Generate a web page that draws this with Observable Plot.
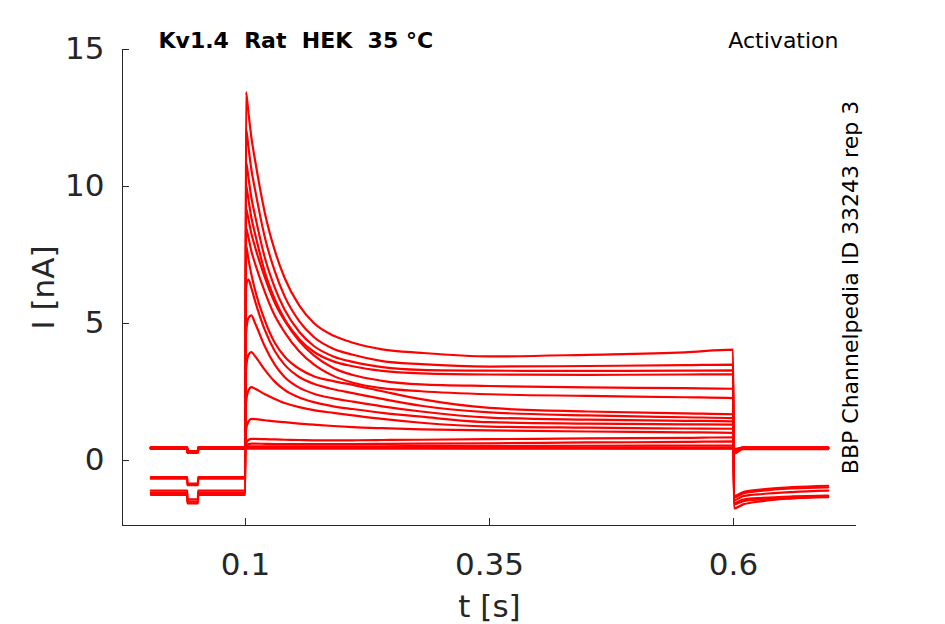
<!DOCTYPE html>
<html><head><meta charset="utf-8">
<script src="https://cdn.jsdelivr.net/npm/d3@7"></script>
<script src="https://cdn.jsdelivr.net/npm/@observablehq/plot@0.6"></script>
<style>body{margin:0;background:#fff;}</style>
</head><body><div id="chart"></div>
<script>
// ---- data ----
const titleText = "Kv1.4  Rat  HEK  35 °C";
const protocolText = "Activation";
const sourceText = "BBP Channelpedia ID 33243 rep 3";
const xLabel = "t [s]";
const yLabel = "I [nA]";
const xTicks = [0.1, 0.35, 0.6];
const yTicks = [0, 5, 10, 15];
const xDomain = [-0.026, 0.726];
const yDomain = [-2.37, 15];

// holding period (before the step)
const holdTimes = [0.003, 0.0403, 0.0405, 0.0513, 0.0515, 0.1];
const holdLevel = [-1.25, -1.18, -1.1, -0.6, -0.66, 0.45, 0.47, 0.44, 0.46, 0.43, 0.48, 0.45, 0.44, 0.46, 0.47, 0.45, 0.43, 0.48];
const dipLevel  = [-1.56, -1.5, -1.42, -0.84, -0.9, 0.31, 0.33, 0.3, 0.32, 0.29, 0.34, 0.31, 0.3, 0.32, 0.33, 0.31, 0.29, 0.34];

// step period
const stepTimes = [0.1005, 0.103, 0.106, 0.11, 0.12, 0.13, 0.14, 0.155, 0.17, 0.19, 0.21, 0.24, 0.28, 0.35, 0.45, 0.55, 0.5995];
const sweep01 = [13.45, 12.7, 11.8, 10.92, 9.01, 7.67, 6.67, 5.66, 5.02, 4.56, 4.3, 4.06, 3.93, 3.8, 3.86, 3.95, 4.05];
const sweep02 = [12.1, 11.45, 10.63, 9.85, 8.12, 6.91, 6.0, 5.09, 4.51, 4.08, 3.86, 3.63, 3.52, 3.43, 3.45, 3.48, 3.5];
const sweep03 = [10.9, 10.33, 9.6, 8.91, 7.38, 6.31, 5.51, 4.7, 4.18, 3.8, 3.6, 3.41, 3.31, 3.28, 3.27, 3.28, 3.29];
const sweep04 = [10.05, 9.53, 8.87, 8.25, 6.86, 5.89, 5.16, 4.44, 3.97, 3.62, 3.44, 3.27, 3.18, 3.14, 3.13, 3.14, 3.15];
const sweep05 = [9.2, 8.81, 8.29, 7.77, 6.67, 5.76, 5.11, 4.36, 3.84, 3.38, 3.12, 2.91, 2.78, 2.72, 2.67, 2.64, 2.62];
const sweep06 = [8.5, 8.14, 7.65, 7.17, 6.14, 5.29, 4.69, 3.99, 3.51, 3.09, 2.84, 2.64, 2.53, 2.42, 2.36, 2.31, 2.28];
const sweep07 = [7.85, 7.35, 6.8, 6.2, 5.1, 4.3, 3.8, 3.35, 3.08, 2.9, 2.76, 2.53, 2.24, 1.92, 1.79, 1.72, 1.69];
const sweep08 = [6.3, 6.6, 6.3, 5.8, 4.75, 4.0, 3.5, 3.05, 2.8, 2.6, 2.46, 2.25, 2.0, 1.76, 1.65, 1.58, 1.55];
const sweep09 = [4.6, 5.2, 5.3, 5.0, 4.15, 3.5, 3.05, 2.66, 2.44, 2.27, 2.15, 1.98, 1.79, 1.57, 1.49, 1.45, 1.43];
const sweep10 = [3.3, 3.85, 3.96, 3.8, 3.3, 2.88, 2.58, 2.3, 2.13, 1.98, 1.88, 1.74, 1.6, 1.4, 1.35, 1.32, 1.31];
const sweep11 = [2.1, 2.55, 2.68, 2.62, 2.42, 2.25, 2.1, 1.95, 1.84, 1.74, 1.65, 1.52, 1.38, 1.24, 1.2, 1.17, 1.16];
const sweep12 = [1.1, 1.42, 1.52, 1.51, 1.47, 1.43, 1.4, 1.35, 1.31, 1.26, 1.22, 1.18, 1.14, 1.1, 1.06, 1.03, 1.01];
const sweep13 = [0.6, 0.75, 0.79, 0.79, 0.78, 0.77, 0.76, 0.75, 0.74, 0.74, 0.74, 0.75, 0.76, 0.78, 0.81, 0.83, 0.85];
const sweep14 = [0.5, 0.6, 0.62, 0.62, 0.61, 0.6, 0.6, 0.6, 0.6, 0.6, 0.6, 0.61, 0.62, 0.63, 0.66, 0.68, 0.7];
const sweep15 = [0.5, 0.52, 0.52, 0.52, 0.52, 0.52, 0.52, 0.52, 0.52, 0.52, 0.52, 0.52, 0.53, 0.53, 0.54, 0.55, 0.55];
const sweep16 = [0.46, 0.46, 0.46, 0.46, 0.46, 0.46, 0.46, 0.46, 0.46, 0.46, 0.46, 0.46, 0.46, 0.45, 0.45, 0.44, 0.44];
const sweep17 = [0.43, 0.43, 0.43, 0.43, 0.43, 0.43, 0.43, 0.43, 0.43, 0.43, 0.43, 0.43, 0.43, 0.43, 0.43, 0.43, 0.43];
const sweep18 = [0.48, 0.48, 0.48, 0.48, 0.48, 0.48, 0.48, 0.48, 0.48, 0.48, 0.48, 0.48, 0.48, 0.48, 0.48, 0.48, 0.48];

// tail period (after the step)
const tailTimes = [0.6005, 0.61, 0.63, 0.66, 0.697];
const tailAt0600 = [-1.3, -1.35, -1.45, -1.55, -1.6, -1.75, 0.25, 0.3, 0.28, 0.3, 0.32, 0.3, 0.35, 0.35, 0.38, 0.4, 0.38, 0.42];
const tailAt0610 = [-1.15, -1.2, -1.3, -1.42, -1.48, -1.6, 0.44, 0.46, 0.43, 0.45, 0.47, 0.44, 0.46, 0.45, 0.48, 0.44, 0.42, 0.47];
const tailAt0630 = [-1.05, -1.1, -1.22, -1.36, -1.42, -1.48, 0.45, 0.46, 0.44, 0.45, 0.47, 0.44, 0.46, 0.45, 0.48, 0.44, 0.42, 0.47];
const tailAt0660 = [-0.97, -1.02, -1.15, -1.31, -1.37, -1.38, 0.45, 0.46, 0.44, 0.45, 0.47, 0.44, 0.46, 0.45, 0.48, 0.44, 0.42, 0.47];
const tailAt0697 = [-0.92, -0.98, -1.1, -1.28, -1.34, -1.3, 0.45, 0.46, 0.44, 0.45, 0.47, 0.44, 0.46, 0.45, 0.48, 0.44, 0.42, 0.47];

// ---- build table ----
const sweeps = [sweep01, sweep02, sweep03, sweep04, sweep05, sweep06, sweep07, sweep08, sweep09,
                sweep10, sweep11, sweep12, sweep13, sweep14, sweep15, sweep16, sweep17, sweep18];
const tails = [tailAt0600, tailAt0610, tailAt0630, tailAt0660, tailAt0697];
const rows = [];
sweeps.forEach((s, k) => {
  holdTimes.forEach((t, j) => rows.push({sweep: k, t, i: (j === 2 || j === 3) ? dipLevel[k] : holdLevel[k]}));
  stepTimes.forEach((t, j) => rows.push({sweep: k, t, i: s[j]}));
  tailTimes.forEach((t, j) => rows.push({sweep: k, t, i: tails[j][k]}));
});

const axisColor = "#262626";
const chart = Plot.plot({
  width: 945, height: 624,
  marginLeft: 122, marginRight: 89, marginTop: 49, marginBottom: 99,
  style: {fontFamily: "DejaVu Sans", fontSize: "31px", color: axisColor, background: "#fff", overflow: "visible"},
  x: {domain: xDomain},
  y: {domain: yDomain},
  marks: [
    Plot.ruleX([xDomain[0]], {stroke: axisColor, strokeWidth: 1}),
    Plot.ruleY([yDomain[0]], {stroke: axisColor, strokeWidth: 1}),
    Plot.axisX(xTicks, {tickSize: -7, tickPadding: 34, tickFormat: d => String(d), label: null}),
    Plot.axisY(yTicks, {tickSize: -7, tickPadding: 25, tickFormat: d => String(d), label: null}),
    Plot.line(rows, {x: "t", y: "i", z: "sweep", stroke: "#ff0000", strokeWidth: 2.2, curve: "monotone-x"}),
    Plot.text([xLabel], {frameAnchor: "bottom", dy: 91, lineAnchor: "bottom", textAnchor: "middle", text: d => d, fontSize: 31, fill: axisColor}),
    Plot.text([yLabel], {frameAnchor: "left", dx: -69, rotate: -90, lineAnchor: "bottom", textAnchor: "middle", text: d => d, fontSize: 31, fill: axisColor}),
    Plot.text([titleText], {frameAnchor: "top-left", dx: 36, dy: -2, lineAnchor: "bottom", textAnchor: "start", text: d => d, fontSize: 22, fontWeight: "bold", fill: "#000"}),
    Plot.text([protocolText], {frameAnchor: "top-right", dx: -18, dy: -2, lineAnchor: "bottom", textAnchor: "end", text: d => d, fontSize: 22, fill: "#000"}),
    Plot.text([sourceText], {frameAnchor: "right", dx: 1, rotate: -90, lineAnchor: "bottom", textAnchor: "middle", text: d => d, fontSize: 22, fill: "#000"})
  ]
});
document.getElementById("chart").appendChild(chart);
</script>
</body></html>
